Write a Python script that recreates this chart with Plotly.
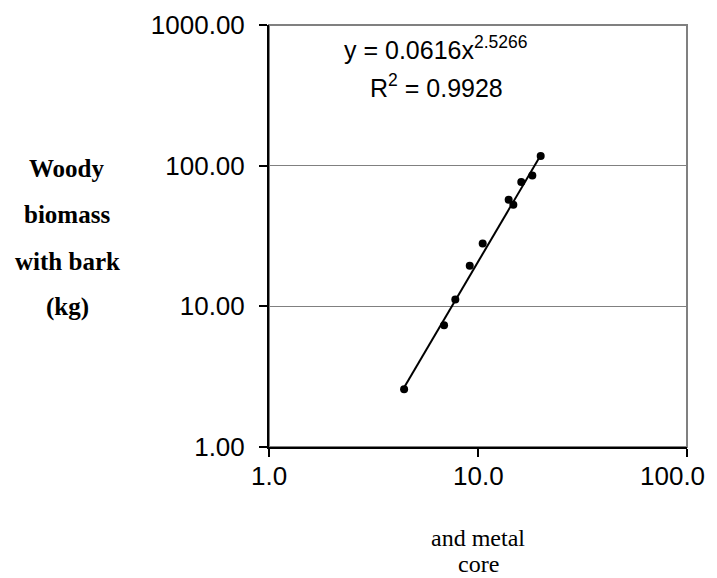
import numpy as np
import plotly.graph_objects as go

# Data
diameter = [4.43, 6.88, 7.79, 9.13, 10.53, 14.02, 14.76, 16.11, 18.19, 19.95]
biomass = [2.57, 7.33, 11.2, 19.4, 28.0, 57.3, 52.7, 76.5, 85.3, 117.0]

# Power trendline coefficients as printed on the chart
coef_a = 0.0616
coef_b = 2.5266
r_squared = 0.9928

x_tickvals = [1, 10, 100]
x_ticktext = ["1.0", "10.0", "100.0"]
y_tickvals = [1, 10, 100, 1000]
y_ticktext = ["1.00", "10.00", "100.00", "1000.00"]

y_title_lines = ["Woody", "biomass", "with bark", "(kg)"]
x_title_lines = ["and metal", "core"]

trend_x = np.geomspace(min(diameter), max(diameter), 60)
trend_y = coef_a * trend_x ** coef_b

SANS = "Liberation Sans, Arial, sans-serif"
SERIF = "Liberation Serif, Times New Roman, serif"

# the page body adds an 8px offset; the figure is sized to fit the window
W, H = 709, 570
PL, PT, PR, PB = 261, 17, 679, 439  # plot area in figure pixels

fig = go.Figure()
fig.add_trace(go.Scatter(x=trend_x, y=trend_y, mode="lines",
                         line=dict(color="black", width=2), hoverinfo="skip",
                         showlegend=False))
fig.add_trace(go.Scatter(x=diameter, y=biomass, mode="markers",
                         marker=dict(color="black", size=8), showlegend=False))

fig.add_shape(type="rect", xref="x domain", yref="y domain", x0=0, x1=1, y0=0, y1=1,
              line=dict(color="#808080", width=2), layer="below")

fig.update_xaxes(type="log", range=[0, 2], tickvals=x_tickvals, showticklabels=False,
                 showline=True, linecolor="black", linewidth=2, ticks="outside",
                 ticklen=8, tickcolor="black", tickwidth=1.5, showgrid=False,
                 zeroline=False, automargin=False)
fig.update_yaxes(type="log", range=[0, 3], tickvals=y_tickvals, ticktext=y_ticktext,
                 showline=True, linecolor="black", linewidth=2, ticks="outside",
                 ticklen=8, tickcolor="black", tickwidth=1.5, showgrid=True,
                 gridcolor="#808080", gridwidth=1, zeroline=False,
                 tickfont=dict(family=SANS, size=26, color="black"),
                 ticklabelstandoff=9, automargin=False, ticklabeloverflow="allow")

pw, ph = PR - PL, PB - PT

annotations = []
# x tick labels (the last one is nudged inward to stay inside the chart, as Excel does)
for i, (v, t) in enumerate(zip(x_tickvals, x_ticktext)):
    annotations.append(dict(text=t, xref="x", yref="paper", x=np.log10(v), y=0,
                            xanchor="center", yanchor="middle", yshift=-29,
                            xshift=-15 if i == len(x_tickvals) - 1 else 0,
                            showarrow=False,
                            font=dict(family=SANS, size=26, color="black")))

annotations.append(dict(text=f"y = {coef_a}x<sup>{coef_b}</sup>", xref="paper", yref="paper",
                        x=0.4, y=0.945, xanchor="center", yanchor="middle", showarrow=False,
                        font=dict(family=SANS, size=25, color="black")))
annotations.append(dict(text=f"R<sup>2</sup> = {r_squared}", xref="paper", yref="paper",
                        x=0.4, y=0.855, xanchor="center", yanchor="middle", showarrow=False,
                        font=dict(family=SANS, size=25, color="black")))

# screen pixel rows of the title lines (plot area left 269, bottom 447 on screen)
y_line_pix = [168, 214, 261, 307]
for txt, py in zip(y_title_lines, y_line_pix):
    annotations.append(dict(text=f"<b>{txt}</b>", xref="paper", yref="paper",
                            x=(67 - 269) / pw, y=(447 - py) / ph,
                            xanchor="center", yanchor="middle", showarrow=False,
                            font=dict(family=SERIF, size=25, color="black")))

x_line_pix = [538, 564]
for txt, py in zip(x_title_lines, x_line_pix):
    annotations.append(dict(text=txt, xref="paper", yref="paper",
                            x=0.5, y=(447 - py) / ph,
                            xanchor="center", yanchor="middle", showarrow=False,
                            font=dict(family=SERIF, size=24, color="black")))

fig.update_layout(width=W, height=H, margin=dict(l=PL, r=W - PR, t=PT, b=H - PB),
                  paper_bgcolor="white", plot_bgcolor="white",
                  annotations=annotations, showlegend=False)

fig.write_html("out.html")
